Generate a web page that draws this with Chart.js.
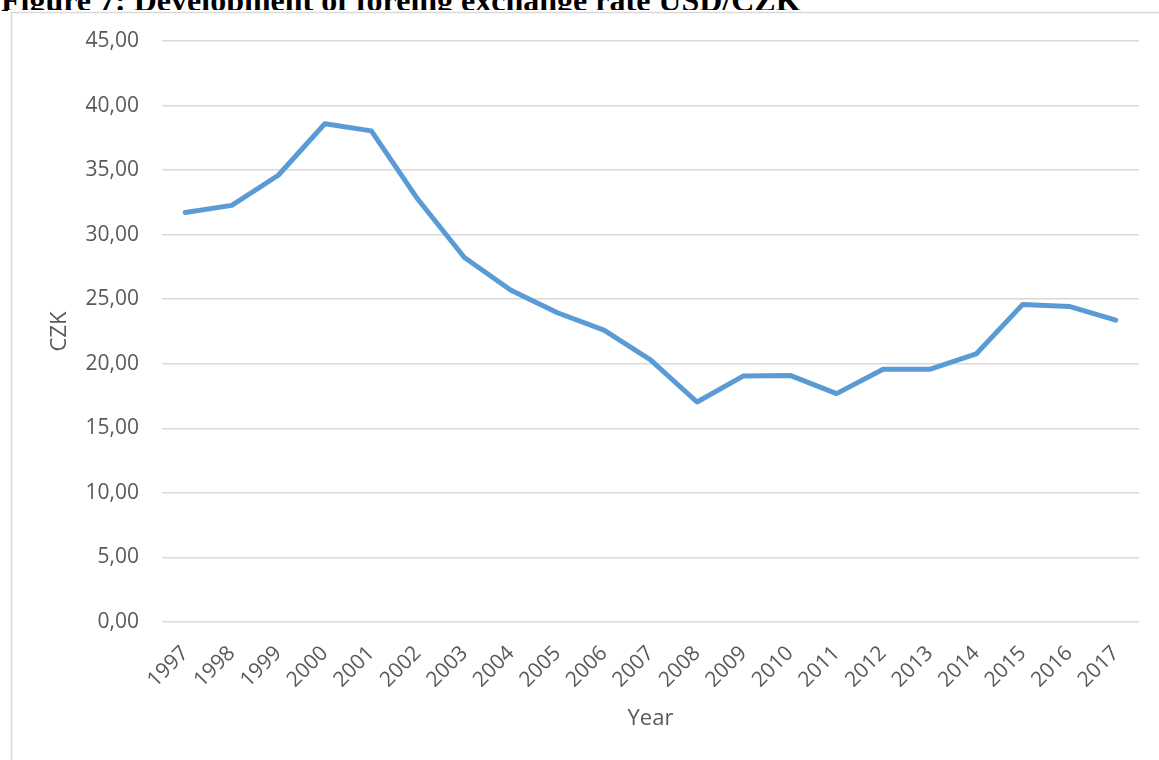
<!DOCTYPE html>
<html>
<head>
<meta charset="utf-8">
<title>USD/CZK exchange rate</title>
<script src="https://cdn.jsdelivr.net/npm/chart.js@4/dist/chart.umd.min.js"></script>
<style>
    html, body {
        margin: 0;
        padding: 0;
        background: #fff;
        width: 1159px;
        height: 760px;
        overflow: hidden;
    }
    #fig-title {
        position: absolute;
        left: 1px;
        top: -16px;
        margin: 0;
        font-family: "Liberation Serif", "Times New Roman", serif;
        font-weight: bold;
        font-size: 32px;
        line-height: 32px;
        white-space: nowrap;
        color: #000;
        z-index: 0;
    }
    #chart {
        position: absolute;
        left: 0;
        top: 0;
        z-index: 1;
    }
</style>
</head>
<body>
<div id="fig-title">Figure 7: Development of foreing exchange rate USD/CZK</div>
<canvas id="chart" width="1159" height="760"></canvas>

<script>
// yearly average USD/CZK rate
const years = [
    "1997", "1998", "1999", "2000", "2001", "2002", "2003", "2004", "2005", "2006", "2007",
    "2008", "2009", "2010", "2011", "2012", "2013", "2014", "2015", "2016", "2017"
];
const czkPerUsd = [
    31.71, 32.27, 34.60, 38.59, 38.04, 32.74, 28.23, 25.70, 23.95, 22.61, 20.31,
    17.04, 19.06, 19.10, 17.69, 19.58, 19.57, 20.76, 24.60, 24.44, 23.38
];
const yTicks = [0, 5, 10, 15, 20, 25, 30, 35, 40, 45];

const axisGrey = "#595959";
const gridGrey = "#d9d9d9";

// white chart box with thin grey frame, drawn over the bottom of the heading
const chartBox = {
    id: "chartBox",
    beforeDraw(chart) {
        const ctx = chart.ctx;
        ctx.save();
        ctx.fillStyle = "#fff";
        ctx.fillRect(8, 10, chart.width, chart.height);
        ctx.strokeStyle = gridGrey;
        ctx.lineWidth = 1.5;
        ctx.strokeRect(11.5, 12.5, chart.width + 20, chart.height + 20);
        ctx.restore();
    }
};

document.addEventListener("DOMContentLoaded", () => {
    const ctx = document.getElementById("chart").getContext("2d");
    new Chart(ctx, {
        type: "line",
        data: {
            labels: years,
            datasets: [
                {
                    label: "USD/CZK",
                    data: czkPerUsd,
                    borderColor: "#5b9bd5",
                    borderWidth: 5,
                    borderJoinStyle: "round",
                    borderCapStyle: "round",
                    pointRadius: 0,
                    pointHoverRadius: 0,
                    tension: 0,
                    fill: false
                }
            ]
        },
        options: {
            responsive: false,
            animation: false,
            events: [],
            layout: {
                padding: { top: 41, right: 20, bottom: 0, left: 0 }
            },
            plugins: {
                legend: { display: false },
                tooltip: { enabled: false }
            },
            scales: {
                x: {
                    offset: true,
                    grid: { display: false, drawTicks: false },
                    border: { display: false },
                    ticks: {
                        autoSkip: false,
                        minRotation: 45,
                        maxRotation: 45,
                        padding: 19,
                        color: axisGrey,
                        font: { family: "'Open Sans'", size: 21 }
                    },
                    title: {
                        display: true,
                        text: "Year",
                        color: axisGrey,
                        font: { family: "'Open Sans'", size: 22 },
                        padding: { top: 0, bottom: 28 }
                    },
                    afterFit: (scale) => { scale.height = 138; }
                },
                y: {
                    min: 0,
                    max: 45,
                    afterBuildTicks: (scale) => {
                        scale.ticks = yTicks.map(v => ({ value: v }));
                    },
                    grid: {
                        color: gridGrey,
                        lineWidth: 1.5,
                        drawTicks: false
                    },
                    border: { display: false },
                    ticks: {
                        padding: 23,
                        color: axisGrey,
                        font: { family: "'Open Sans'", size: 21 },
                        callback: (value) => value.toFixed(2).replace(".", ",")
                    },
                    title: {
                        display: true,
                        text: "CZK",
                        color: axisGrey,
                        font: { family: "'Open Sans'", size: 22 },
                        padding: { top: 47, bottom: 0 }
                    },
                    afterFit: (scale) => { scale.width = 162; }
                }
            }
        },
        plugins: [chartBox]
    });
});
</script>
</body>
</html>
